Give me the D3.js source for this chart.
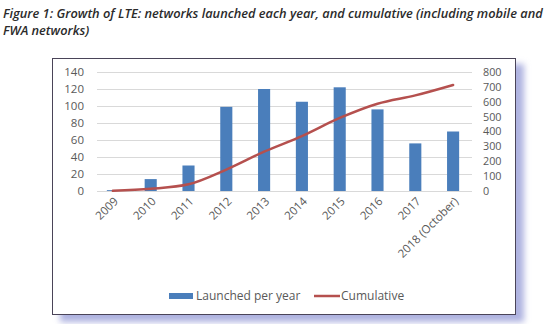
<!DOCTYPE html>
<html>
<head>
<meta charset="utf-8">
<script src="https://cdn.jsdelivr.net/npm/d3@7/dist/d3.min.js"></script>
<style>
  html, body { margin: 0; padding: 0; background: #fff; }
  svg { display: block; }
</style>
</head>
<body>
<svg id="chart" width="547" height="324"></svg>
<script>
// Data
const years = ["2009", "2010", "2011", "2012", "2013", "2014", "2015", "2016", "2017", "2018 (October)"];
const launchedPerYear = [1, 14, 30, 99, 120, 105, 122, 96, 56, 70];
const cumulative = [1, 15, 45, 144, 264, 369, 491, 587, 643, 713];
const leftTicks = [0, 20, 40, 60, 80, 100, 120, 140];
const rightTicks = [0, 100, 200, 300, 400, 500, 600, 700, 800];
const titleLines = [
  "Figure 1: Growth of LTE: networks launched each year, and cumulative (including mobile and",
  "FWA networks)"
];

const svg = d3.select("#chart");
const barColor = "#4a7ebb";
const lineColor = "#b5504e";
const textColor = "#595959";
const font = "'Open Sans', 'Noto Sans', sans-serif";

// Title
svg.append("g").selectAll("text").data(titleLines).join("text")
  .attr("x", 3)
  .attr("y", (d, i) => 18 + i * 17)
  .attr("font-family", font)
  .attr("font-style", "italic")
  .attr("font-weight", 600)
  .attr("font-size", 12.8)
  .attr("fill", "#2b2b2b")
  .text(d => d);

// Frame with soft shadow
const defs = svg.append("defs");
const blur = defs.append("filter").attr("id", "shadow").attr("x", "-10%").attr("y", "-10%").attr("width", "130%").attr("height", "130%");
blur.append("feGaussianBlur").attr("stdDeviation", 3);
svg.append("rect")
  .attr("x", 60).attr("y", 64).attr("width", 464).attr("height", 258)
  .attr("fill", "#aeb2e0")
  .attr("filter", "url(#shadow)");
svg.append("rect")
  .attr("x", 52.5).attr("y", 58.5).attr("width", 463).attr("height", 256)
  .attr("fill", "#fff")
  .attr("stroke", "#4a4458")
  .attr("stroke-width", 1);

// Scales
const plot = { left: 94, right: 472, top: 72, bottom: 191 };
const x = d3.scaleBand().domain(years).range([plot.left, plot.right]).paddingInner(0.68).paddingOuter(0.34);
const yL = d3.scaleLinear().domain([0, 140]).range([plot.bottom, plot.top]);
const yR = d3.scaleLinear().domain([0, 800]).range([plot.bottom, plot.top]);

// Gridlines
svg.append("g").selectAll("line").data(leftTicks).join("line")
  .attr("x1", plot.left + 3).attr("x2", plot.right)
  .attr("y1", d => Math.round(yL(d)) + 0.5).attr("y2", d => Math.round(yL(d)) + 0.5)
  .attr("stroke", "#d9d9d9").attr("stroke-width", 1);

// Left axis
const leftAxis = svg.append("g")
  .attr("transform", `translate(${plot.left - 10},0)`)
  .call(d3.axisLeft(yL).tickValues(leftTicks).tickSize(0).tickPadding(0));
leftAxis.select(".domain").remove();
leftAxis.selectAll("text").attr("font-family", font).attr("font-size", 11.5).attr("fill", textColor);

// Right axis
const rightAxis = svg.append("g")
  .attr("transform", `translate(${plot.right + 11},0)`)
  .call(d3.axisRight(yR).tickValues(rightTicks).tickSize(0).tickPadding(0));
rightAxis.select(".domain").remove();
rightAxis.selectAll("text").attr("font-family", font).attr("font-size", 10.8).attr("fill", textColor);

// Bars
svg.append("g").selectAll("rect").data(years).join("rect")
  .attr("x", d => x(d))
  .attr("width", x.bandwidth())
  .attr("y", (d, i) => yL(launchedPerYear[i]))
  .attr("height", (d, i) => yL(0) - yL(launchedPerYear[i]))
  .attr("fill", barColor);

// Cumulative line
const line = d3.line()
  .x((d, i) => x(years[i]) + x.bandwidth() / 2)
  .y(d => yR(d))
  .curve(d3.curveMonotoneX);
svg.append("path")
  .datum(cumulative)
  .attr("d", line)
  .attr("fill", "none")
  .attr("stroke", lineColor)
  .attr("stroke-width", 2.5)
  .attr("stroke-linecap", "round");

// Category labels, rotated
const bottomAxis = svg.append("g")
  .attr("transform", `translate(0,${plot.bottom + 2})`)
  .call(d3.axisBottom(x).tickSize(0).tickPadding(0));
bottomAxis.select(".domain").remove();
bottomAxis.selectAll("text")
  .attr("font-family", font).attr("font-size", 11.5).attr("fill", textColor)
  .attr("text-anchor", "end")
  .attr("dy", 0)
  .attr("transform", "translate(6,9) rotate(-45)");

// Legend
const legend = svg.append("g").attr("font-family", font).attr("font-size", 12).attr("fill", textColor);
legend.append("rect").attr("x", 169).attr("y", 293).attr("width", 24).attr("height", 6).attr("fill", barColor);
legend.append("text").attr("x", 196).attr("y", 300).text("Launched per year");
legend.append("line").attr("x1", 314).attr("x2", 340).attr("y1", 296).attr("y2", 296)
  .attr("stroke", lineColor).attr("stroke-width", 2.5);
legend.append("text").attr("x", 341).attr("y", 300).text("Cumulative");
</script>
</body>
</html>
